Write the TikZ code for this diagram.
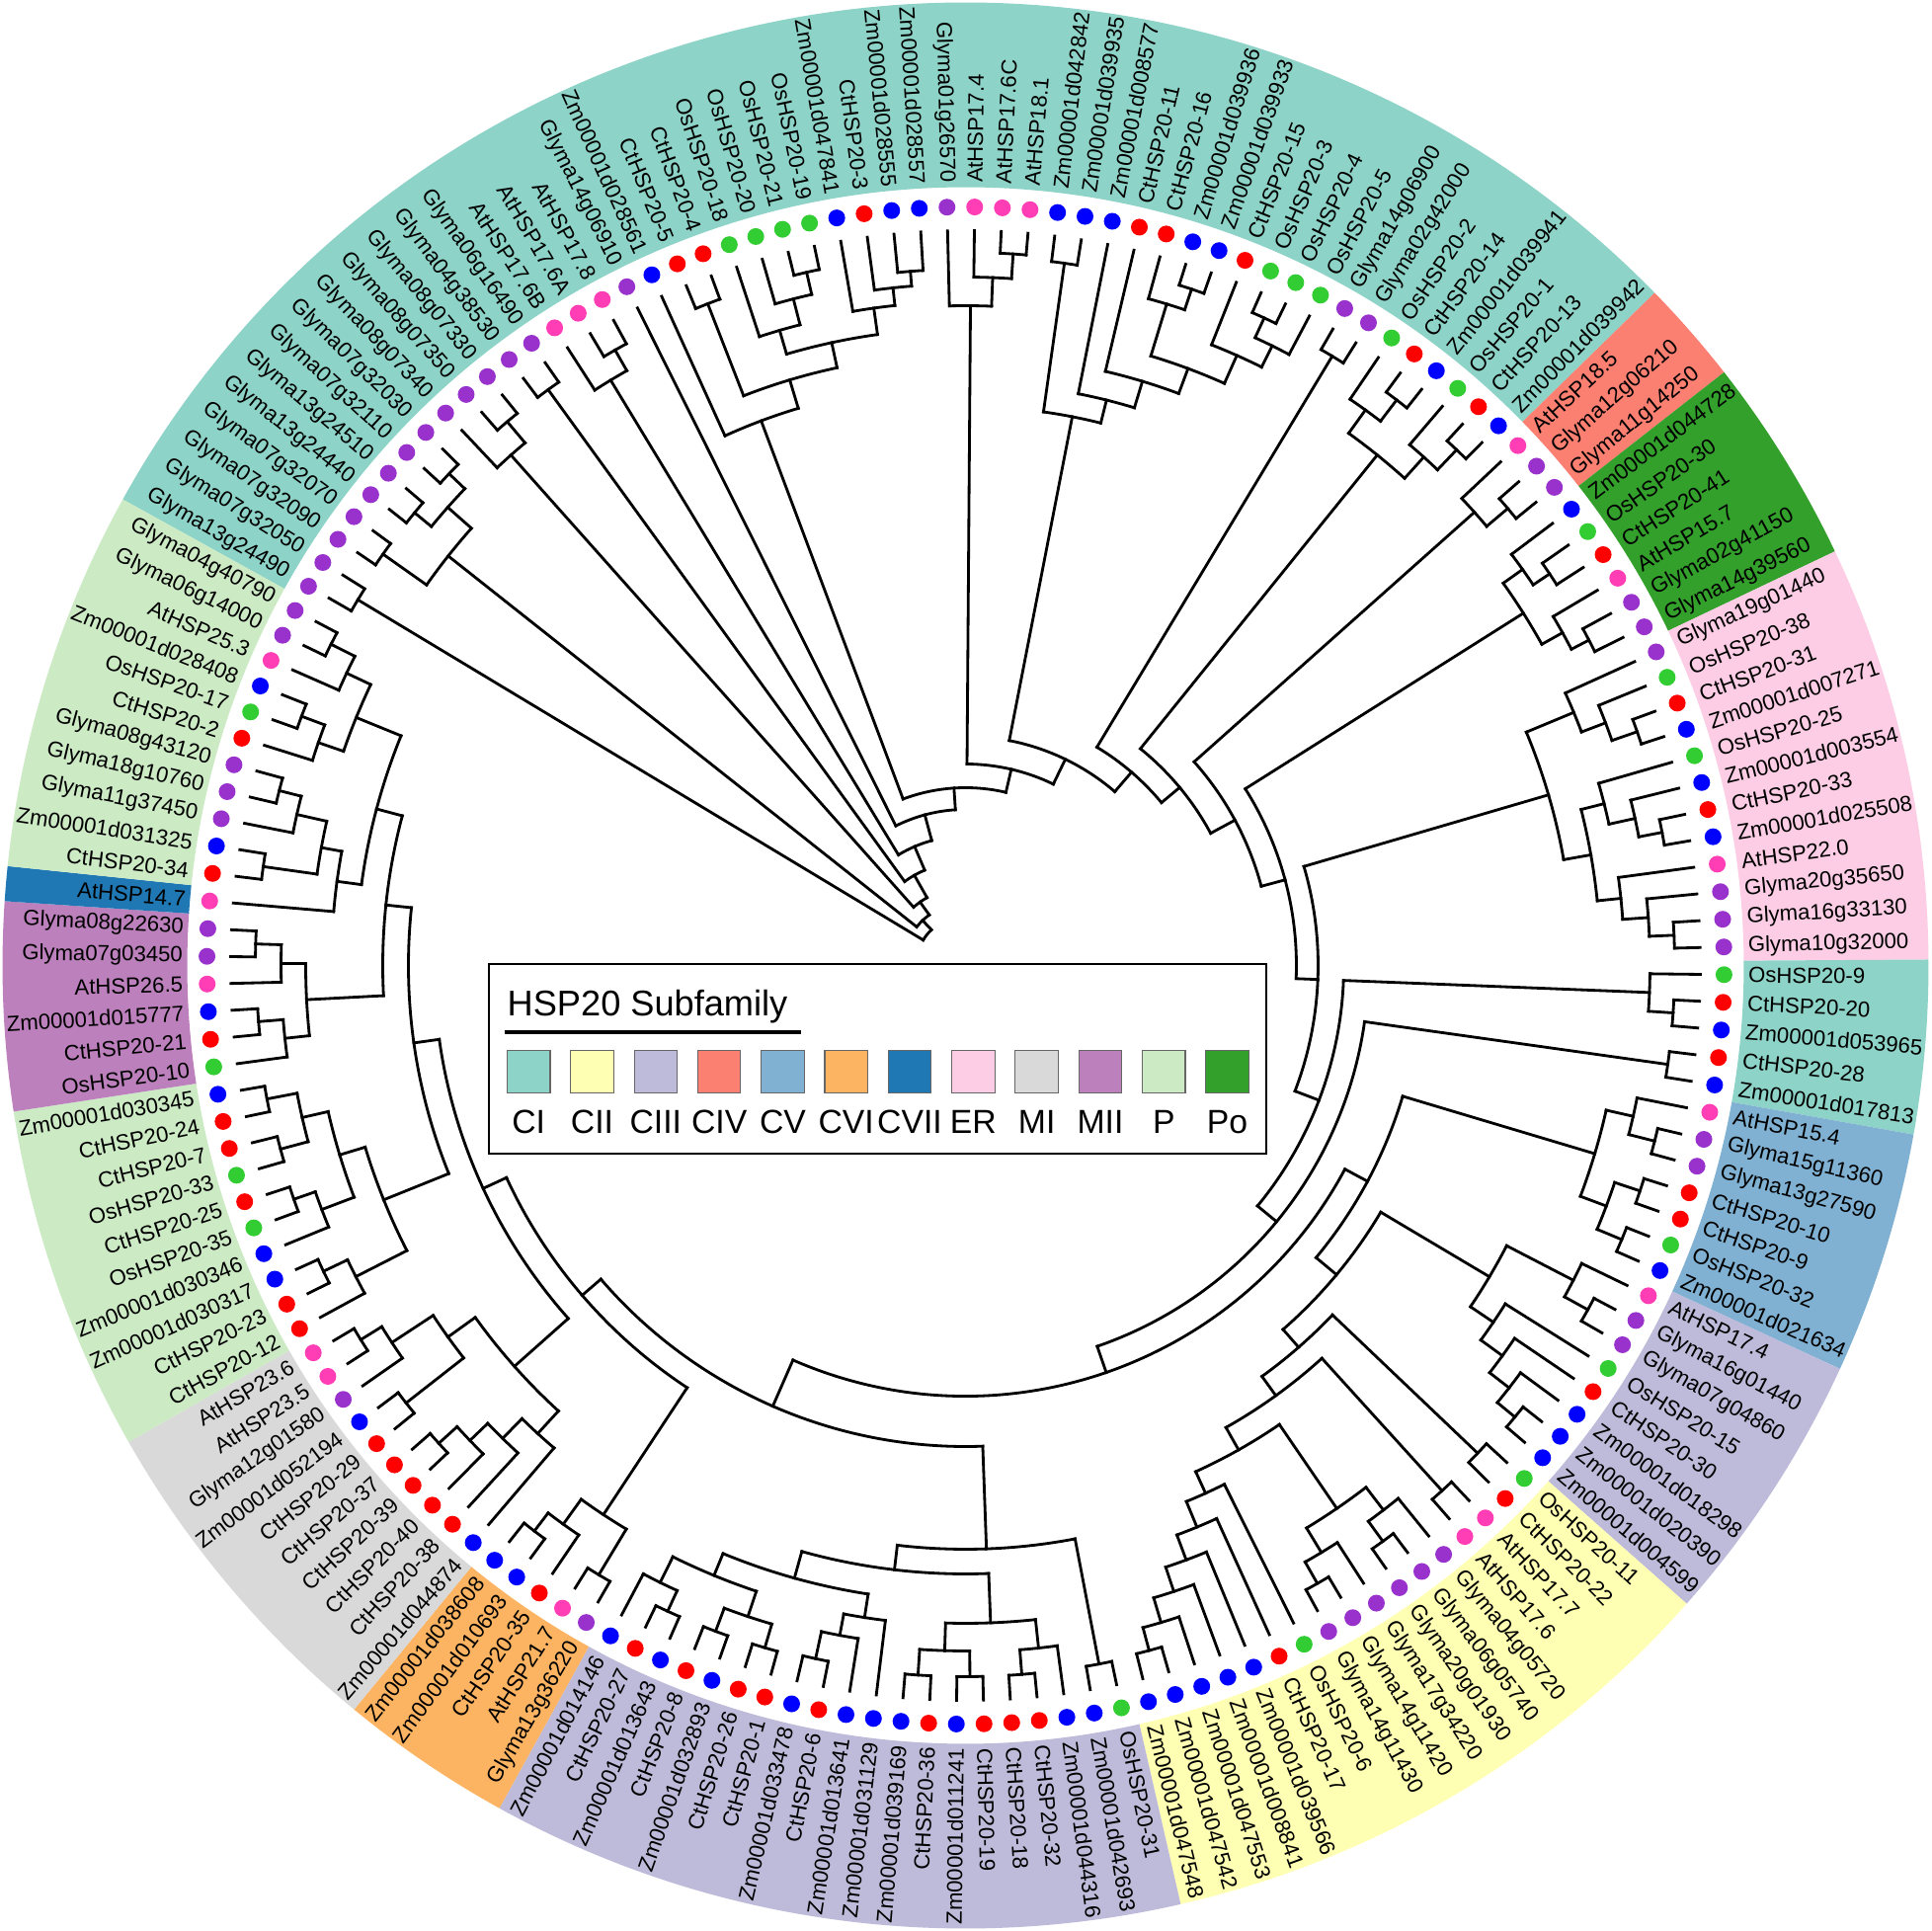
\documentclass[tikz,border=0pt]{standalone}
\usepackage{fontspec}
\setmainfont{Liberation Sans}
\definecolor{dota}{HTML}{FF3EB5}
\definecolor{dotg}{HTML}{9932CC}
\definecolor{doto}{HTML}{32CD32}
\definecolor{dotc}{HTML}{FF0000}
\definecolor{dotz}{HTML}{0000FF}
\definecolor{bCI}{HTML}{8DD3C7}
\definecolor{bCII}{HTML}{FFFFB3}
\definecolor{bCIII}{HTML}{BEBADA}
\definecolor{bCIV}{HTML}{FB8072}
\definecolor{bCV}{HTML}{80B1D3}
\definecolor{bCVI}{HTML}{FDB462}
\definecolor{bCVII}{HTML}{1F78B4}
\definecolor{bER}{HTML}{FCCDE5}
\definecolor{bMI}{HTML}{D9D9D9}
\definecolor{bMII}{HTML}{BC80BD}
\definecolor{bP}{HTML}{CCEBC5}
\definecolor{bPo}{HTML}{33A02C}
\def\setA#1#2{\expandafter\xdef\csname tA@#1\endcsname{#2}}
\def\setR#1#2{\expandafter\xdef\csname tR@#1\endcsname{#2}}
\def\getA#1{\csname tA@#1\endcsname}
\def\getR#1{\csname tR@#1\endcsname}
\pgfmathsetmacro\dA{360/172}
\def\aZero{91.4}
\def\Rtip{7.44}
\newcommand\leafangle[1]{\ifnum#1>144\relax\pgfmathsetmacro\la{\aZero+(173-#1)*\dA}\else\pgfmathsetmacro\la{\aZero-(#1-1)*\dA}\fi}
\newcommand\band[3]{%
  \leafangle{#2}\let\bA\la
  \leafangle{#3}\let\bB\la
  \pgfmathsetmacro\bS{\bA+\dA/2}\pgfmathsetmacro\bE{\bB-\dA/2}%
  \fill[#1] (\bS:7.88) arc[start angle=\bS,end angle=\bE,radius=7.88] -- (\bE:9.75) arc[start angle=\bE,end angle=\bS,radius=9.75] -- cycle;}
\newcommand\cl[3]{%
  \gdef\clF{}%
  \pgfmathsetmacro\clr{#2/100}%
  \foreach \chl in {#3}{%
    \ifx\clF\empty\xdef\clF{\chl}\fi
    \xdef\clL{\chl}%
    \edef\chA{\getA{\chl}}\edef\chR{\getR{\chl}}%
    \draw[br] (\chA:\clr) -- (\chA:\chR);
  }%
  \edef\aF{\getA{\clF}}\edef\aL{\getA{\clL}}%
  \draw[br] (\aF:\clr) arc[start angle=\aF, end angle=\aL, radius=\clr];
  \pgfmathsetmacro\aM{(\aF+\aL)/2}%
  \setA{#1}{\aM}\setR{#1}{\clr}%
}
\tikzset{br/.style={line width=0.8pt,line cap=rect},
  lab/.style={font=\fontsize{6.3}{7}\selectfont,inner sep=0pt},
  leg/.style={font=\fontsize{9.6}{11}\selectfont,inner sep=0pt}}
\begin{document}
\begin{tikzpicture}
\useasboundingbox (-9.775,-9.775) rectangle (9.775,9.775);
\fill[white] (-9.775,-9.775) rectangle (9.775,9.775);
% colour bands
\band{bCI}{145}{23}
\band{bCIV}{24}{26}
\band{bPo}{27}{32}
\band{bER}{33}{44}
\band{bCI}{45}{49}
\band{bCV}{50}{56}
\band{bCIII}{57}{64}
\band{bCII}{65}{81}
\band{bCIII}{82}{101}
\band{bCVI}{102}{106}
\band{bMI}{107}{116}
\band{bP}{117}{126}
\band{bMII}{127}{132}
\band{bCVII}{133}{133}
\band{bP}{134}{144}
% leaves
\foreach \i/\nm/\lc in {1/Glyma01g26570/g,2/AtHSP17.4/a,3/AtHSP17.6C/a,4/AtHSP18.1/a,5/Zm00001d042842/z,6/Zm00001d039935/z,7/Zm00001d008577/z,8/CtHSP20-11/c,9/CtHSP20-16/c,10/Zm00001d039936/z,11/Zm00001d039933/z,12/CtHSP20-15/c,13/OsHSP20-3/o,14/OsHSP20-4/o,15/OsHSP20-5/o,16/Glyma14g06900/g,17/Glyma02g42000/g,18/OsHSP20-2/o,19/CtHSP20-14/c,20/Zm00001d039941/z,21/OsHSP20-1/o,22/CtHSP20-13/c,23/Zm00001d039942/z,24/AtHSP18.5/a,25/Glyma12g06210/g,26/Glyma11g14250/g,27/Zm00001d044728/z,28/OsHSP20-30/o,29/CtHSP20-41/c,30/AtHSP15.7/a,31/Glyma02g41150/g,32/Glyma14g39560/g,33/Glyma19g01440/g,34/OsHSP20-38/o,35/CtHSP20-31/c,36/Zm00001d007271/z,37/OsHSP20-25/o,38/Zm00001d003554/z,39/CtHSP20-33/c,40/Zm00001d025508/z,41/AtHSP22.0/a,42/Glyma20g35650/g,43/Glyma16g33130/g,44/Glyma10g32000/g,45/OsHSP20-9/o,46/CtHSP20-20/c,47/Zm00001d053965/z,48/CtHSP20-28/c,49/Zm00001d017813/z,50/AtHSP15.4/a,51/Glyma15g11360/g,52/Glyma13g27590/g,53/CtHSP20-10/c,54/CtHSP20-9/c,55/OsHSP20-32/o,56/Zm00001d021634/z,57/AtHSP17.4/a,58/Glyma16g01440/g,59/Glyma07g04860/g,60/OsHSP20-15/o,61/CtHSP20-30/c,62/Zm00001d018298/z,63/Zm00001d020390/z,64/Zm00001d004599/z,65/OsHSP20-11/o,66/CtHSP20-22/c,67/AtHSP17.7/a,68/AtHSP17.6/a,69/Glyma04g05720/g,70/Glyma06g05740/g,71/Glyma20g01930/g,72/Glyma17g34220/g,73/Glyma14g11420/g,74/Glyma14g11430/g,75/OsHSP20-6/o,76/CtHSP20-17/c,77/Zm00001d039566/z,78/Zm00001d008841/z,79/Zm00001d047553/z,80/Zm00001d047542/z,81/Zm00001d047548/z,82/OsHSP20-31/o,83/Zm00001d042693/z,84/Zm00001d044316/z,85/CtHSP20-32/c,86/CtHSP20-18/c,87/CtHSP20-19/c,88/Zm00001d011241/z,89/CtHSP20-36/c,90/Zm00001d039169/z,91/Zm00001d031129/z,92/Zm00001d013641/z,93/CtHSP20-6/c,94/Zm00001d033478/z,95/CtHSP20-1/c,96/CtHSP20-26/c,97/Zm00001d032893/z,98/CtHSP20-8/c,99/Zm00001d013643/z,100/CtHSP20-27/c,101/Zm00001d014146/z,102/Glyma13g36220/g,103/AtHSP21.7/a,104/CtHSP20-35/c,105/Zm00001d010693/z,106/Zm00001d038608/z,107/Zm00001d044874/z,108/CtHSP20-38/c,109/CtHSP20-40/c,110/CtHSP20-39/c,111/CtHSP20-37/c,112/CtHSP20-29/c,113/Zm00001d052194/z,114/Glyma12g01580/g,115/AtHSP23.5/a,116/AtHSP23.6/a,117/CtHSP20-12/c,118/CtHSP20-23/c,119/Zm00001d030317/z,120/Zm00001d030346/z,121/OsHSP20-35/o,122/CtHSP20-25/c,123/OsHSP20-33/o,124/CtHSP20-7/c,125/CtHSP20-24/c,126/Zm00001d030345/z,127/OsHSP20-10/o,128/CtHSP20-21/c,129/Zm00001d015777/z,130/AtHSP26.5/a,131/Glyma07g03450/g,132/Glyma08g22630/g,133/AtHSP14.7/a,134/CtHSP20-34/c,135/Zm00001d031325/z,136/Glyma11g37450/g,137/Glyma18g10760/g,138/Glyma08g43120/g,139/CtHSP20-2/c,140/OsHSP20-17/o,141/Zm00001d028408/z,142/AtHSP25.3/a,143/Glyma06g14000/g,144/Glyma04g40790/g,145/Glyma13g24490/g,146/Glyma07g32050/g,147/Glyma07g32090/g,148/Glyma07g32070/g,149/Glyma13g24440/g,150/Glyma13g24510/g,151/Glyma07g32110/g,152/Glyma07g32030/g,153/Glyma08g07340/g,154/Glyma08g07350/g,155/Glyma08g07330/g,156/Glyma04g38530/g,157/Glyma06g16490/g,158/AtHSP17.6B/a,159/AtHSP17.6A/a,160/AtHSP17.8/a,161/Glyma14g06910/g,162/Zm00001d028561/z,163/CtHSP20-5/c,164/CtHSP20-4/c,165/OsHSP20-18/o,166/OsHSP20-20/o,167/OsHSP20-21/o,168/OsHSP20-19/o,169/Zm00001d047841/z,170/CtHSP20-3/c,171/Zm00001d028555/z,172/Zm00001d028557/z}{%
  \leafangle{\i}%
  \setA{\i}{\la}\setR{\i}{\Rtip}%
  \pgfmathsetmacro\ca{cos(\la)}%
  \ifdim\ca pt<0pt
    \pgfmathsetmacro\rot{\la+180}%
    \node[lab,anchor=east,rotate=\rot] (t\i) at (\la:7.92) {\nm};
  \else
    \node[lab,anchor=west,rotate=\la] (t\i) at (\la:7.92) {\nm};
  \fi
  \fill[dot\lc] (\la:7.68) circle[radius=0.085];
}
% tree: top-left
\cl{a145}{718}{145,146}
\cl{a147}{722}{147,148}
\cl{a149}{722}{149,150}
\cl{a151}{722}{151,152}
\cl{a149b}{700}{a149,a151}
\cl{X}{668}{a147,a149b}
\cl{a154}{720}{154,155}
\cl{Y}{692}{153,a154}
\cl{a156}{720}{156,157}
\cl{a159}{717}{159,160}
\cl{a158}{693}{158,a159}
\cl{a163}{719}{163,164}
\cl{a167}{720}{167,168}
\cl{a166}{697}{166,a167}
\cl{U1}{670}{165,a166}
\cl{a171}{705}{171,172}
\cl{a170}{690}{170,a171}
\cl{Q}{672}{169,a170}
\cl{UQ}{645}{U1,Q}
\cl{Vp}{619}{a163,UQ}
\cl{W}{589}{162,Vp}
% top-right
\cl{a3}{722}{3,4}
\cl{a2}{697}{2,a3}
\cl{N1}{668}{1,a2}
\cl{a5}{718}{5,6}
\cl{a10}{722}{10,11}
\cl{a9}{700}{9,a10}
\cl{a13}{722}{13,14}
\cl{a13b}{700}{a13,15}
\cl{a12}{676}{12,a13b}
\cl{Md}{645}{a9,a12}
\cl{Mc}{618}{8,Md}
\cl{Mb}{590}{7,Mc}
\cl{M}{566}{a5,Mb}
\cl{a16}{720}{16,17}
\cl{a19}{720}{19,20}
\cl{a18}{693}{18,a19}
\cl{a22}{721}{22,23}
\cl{a21}{693}{21,a22}
\cl{H}{664}{a18,a21}
\cl{a25}{718}{25,26}
\cl{CIV}{690}{24,a25}
\cl{a28}{712}{28,29}
\cl{a27}{692}{27,a28}
\cl{a31}{712}{31,32}
\cl{a30}{692}{30,a31}
\cl{Po}{668}{a27,a30}
\cl{e35}{720}{35,36}
\cl{e34}{693}{34,e35}
\cl{E1}{667}{33,e34}
\cl{e39}{718}{39,40}
\cl{e38}{694}{38,e39}
\cl{E2a}{667}{37,e38}
\cl{e43}{718}{43,44}
\cl{e42}{693}{42,e43}
\cl{E2b}{667}{41,e42}
\cl{E2}{643}{E2a,E2b}
\cl{ER}{615}{E1,E2}
\cl{c46}{718}{46,47}
\cl{C45}{693}{45,c46}
\cl{c48}{718}{48,49}
\cl{v51}{720}{51,52}
\cl{CVa}{693}{50,v51}
\cl{v53}{720}{53,54}
\cl{v55}{720}{55,56}
\cl{CVb}{693}{v53,v55}
\cl{CV}{665}{CVa,CVb}
\cl{r58}{720}{58,59}
\cl{r57}{693}{57,r58}
\cl{r63}{720}{63,64}
\cl{r62}{697}{62,r63}
\cl{r61}{672}{61,r62}
\cl{r60}{645}{60,r61}
\cl{CIIIR}{617}{r57,r60}
\cl{n65}{716}{65,66}
\cl{n67}{718}{67,68}
\cl{g70}{720}{70,71}
\cl{g69}{695}{69,g70}
\cl{g73}{720}{73,74}
\cl{g72}{695}{72,g73}
\cl{G69}{666}{g69,g72}
\cl{z80}{718}{80,81}
\cl{z79}{694}{79,z80}
\cl{z78}{668}{78,z79}
\cl{z77}{642}{77,z78}
\cl{z76}{615}{76,z77}
\cl{X75}{587}{75,z76}
\cl{K563}{563}{G69,X75}
\cl{K537}{537}{n67,K563}
\cl{K513}{513}{n65,K537}
\cl{K490}{489}{CIIIR,K513}
\cl{K461}{462}{CV,K490}
\cl{b82}{720}{82,83}
\cl{b85}{720}{85,86}
\cl{b84}{695}{84,b85}
\cl{b87}{720}{87,88}
\cl{b89}{720}{89,90}
\cl{b87b}{694}{b87,b89}
\cl{Bx1}{666}{b84,b87b}
\cl{b93}{718}{93,94}
\cl{b92}{690}{92,b93}
\cl{b91}{668}{91,b92}
\cl{b95}{720}{95,96}
\cl{b97}{720}{97,98}
\cl{b95b}{695}{b95,b97}
\cl{b99}{720}{99,100}
\cl{b99b}{697}{b99,101}
\cl{b95c}{668}{b95b,b99b}
\cl{Bx2}{644}{b91,b95c}
\cl{Bx}{616}{Bx1,Bx2}
\cl{B590}{591}{b82,Bx}
\cl{s102}{720}{102,103}
\cl{s105}{720}{105,106}
\cl{s104}{697}{104,s105}
\cl{CVI}{666}{s102,s104}
\cl{m110}{720}{110,111}
\cl{m109}{695}{109,m110}
\cl{m108}{670}{108,m109}
\cl{MIa}{642}{107,m108}
\cl{m112}{719}{112,113}
\cl{m115}{720}{115,116}
\cl{m114}{695}{114,m115}
\cl{MIb}{645}{m112,m114}
\cl{MI}{611}{MIa,MIb}
\cl{p118}{720}{118,119}
\cl{PBc}{693}{117,p118}
\cl{p121}{720}{121,122}
\cl{p120}{697}{120,p121}
\cl{p123}{718}{123,124}
\cl{p125}{720}{125,126}
\cl{PBa}{689}{p123,p125}
\cl{PBam}{662}{PBa,p120}
\cl{PB}{635}{PBam,PBc}
\cl{q128}{718}{128,129}
\cl{q127}{693}{127,q128}
\cl{q131}{719}{131,132}
\cl{q130}{693}{130,q131}
\cl{MII}{668}{q127,q130}
\cl{p134}{718}{134,135}
\cl{p137}{717}{137,138}
\cl{p136}{694}{136,p137}
\cl{P3}{663}{p134,p136}
\cl{P3p}{642}{133,P3}
\cl{p140}{718}{140,141}
\cl{p139}{693}{139,p140}
\cl{p143}{720}{143,144}
\cl{p142}{693}{142,p143}
\cl{P1}{666}{p139,p142}
\cl{P2}{617}{P3p,P1}
\cl{N590}{590}{P2,MII}
\cl{N564}{564}{N590,PB}
\cl{Z}{538}{MI,N564}
\cl{Lx}{512}{CVI,Z}
\cl{V487}{487}{B590,Lx}
\cl{G10}{436}{K461,V487}
\cl{G9}{408}{c48,G10}
\cl{G8}{383}{C45,G9}
\cl{G7}{357}{ER,G8}
\cl{G6}{335}{Po,G7}
\cl{G5}{310}{CIV,G6}
\cl{G4}{282}{H,G5}
\cl{G3}{258}{a16,G4}
\cl{G2}{232}{M,G3}
\cl{G1}{204}{N1,G2}
\cl{R180}{180}{W,G1}
\cl{L158}{158}{161,R180}
\cl{L131}{131}{a158,L158}
\cl{L105}{105}{a156,L131}
\cl{L79}{79}{Y,L105}
\cl{L63}{63}{X,L79}
\cl{L50}{50}{a145,L63}
% legend
\filldraw[fill=white,draw=black,line width=0.8pt] (-4.825,0.015) rectangle (3.045,-1.905);
\node[anchor=base west,font=\fontsize{10.3}{12}\selectfont,inner sep=0pt] (ltitle) at (-4.645,-0.515) {HSP20 Subfamily};
\draw[line width=1.1pt] (-4.665,-0.675) -- (-1.665,-0.675);
\foreach \k/\cn/\lb in {0/bCI/CI,1/bCII/CII,2/bCIII/CIII,3/bCIV/CIV,4/bCV/CV,5/bCVI/CVI,6/bCVII/CVII,7/bER/ER,8/bMI/MI,9/bMII/MII,10/bP/P,11/bPo/Po}{%
  \filldraw[fill=\cn,draw=black!60,line width=0.3pt] (-4.64+0.643*\k,-0.863) rectangle ++(0.435,-0.428);
  \node[leg] (lg\k) at (-4.4225+0.643*\k,-1.585) {\lb};
}
\end{tikzpicture}
\end{document}
